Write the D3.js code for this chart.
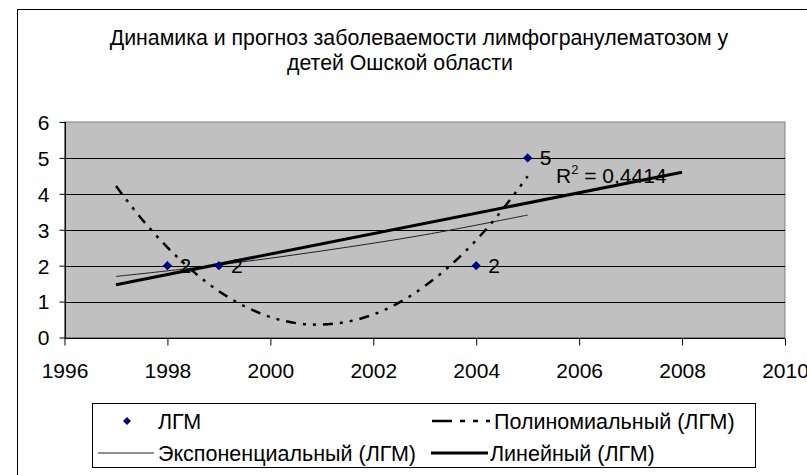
<!DOCTYPE html>
<html><head><meta charset="utf-8">
<script src="https://cdn.jsdelivr.net/npm/d3@7"></script>
<style>body{margin:0;background:#fff}svg{display:block;font-family:"Liberation Sans",Arial,sans-serif}</style>
</head><body><svg id="c" width="807" height="475"></svg>
<script>
const titleLines = ["Динамика и прогноз заболеваемости лимфогранулематозом у", "детей Ошской области"];
const years = [1998, 1999, 2004, 2005];
const cases = [2, 2, 2, 5];
const xTicks = [1996, 1998, 2000, 2002, 2004, 2006, 2008, 2010];
const yTicks = [0, 1, 2, 3, 4, 5, 6];
// trendlines
const linYears = [1997, 2008];
const linVals = [1.47, 4.6];
const expYears = [1997, 1999, 2001, 2003, 2005];
const expVals = [1.70, 2.02, 2.41, 2.86, 3.41];
const polyYears = [1997, 1997.5, 1998, 1998.5, 1999, 1999.5, 2000, 2000.5, 2001, 2001.5, 2002, 2002.5, 2003, 2003.5, 2004, 2004.5, 2005];
const polyVals = [4.22, 3.30, 2.51, 1.84, 1.29, 0.87, 0.57, 0.40, 0.36, 0.44, 0.64, 0.97, 1.43, 2.01, 2.71, 3.54, 4.49];
const r2Label = "0,4414";
const legendNames = ["ЛГМ", "Полиномиальный (ЛГМ)", "Экспоненциальный (ЛГМ)", "Линейный (ЛГМ)"];

const svg = d3.select("#c");
const FS = 21;
const L = 64.5, R = 785, T = 122, B = 337.5;
const x = d3.scaleLinear().domain([1996, 2010]).range([L, R]);
const y = d3.scaleLinear().domain([0, 6]).range([B, T]);

// outer frame
svg.append("rect").attr("x", 17.5).attr("y", 9.5).attr("width", 900).attr("height", 600)
  .attr("fill", "#fff").attr("stroke", "#000");

// title
svg.append("text").attr("x", 419).attr("y", 45).attr("text-anchor", "middle").attr("font-size", 21.3).text(titleLines[0]);
svg.append("text").attr("x", 400).attr("y", 70).attr("text-anchor", "middle").attr("font-size", 21.3).text(titleLines[1]);

// plot area
svg.append("rect").attr("x", L).attr("y", T).attr("width", R - L).attr("height", B - T)
  .attr("fill", "#c0c0c0").attr("stroke", "#808080");

// gridlines
svg.append("g").selectAll("line").data(yTicks.filter(d => d > 0 && d < 6)).join("line")
  .attr("x1", L).attr("x2", R).attr("y1", d => Math.round(y(d)) + 0.5).attr("y2", d => Math.round(y(d)) + 0.5)
  .attr("stroke", "#000").attr("stroke-width", 1);

// axes
const xAxis = svg.append("g").attr("transform", `translate(0,${Math.round(B) + 0.5})`)
  .call(d3.axisBottom(x).tickValues(xTicks).tickFormat(d3.format("d")).tickSize(7).tickPadding(18));
const yAxis = svg.append("g").attr("transform", `translate(${Math.round(L) + 0.5},0)`)
  .call(d3.axisLeft(y).tickValues(yTicks).tickFormat(d3.format("d")).tickSize(6).tickPadding(10));
[xAxis, yAxis].forEach(a => {
  a.select(".domain").attr("stroke", "#000").attr("d", a === xAxis ? `M${L},0H${R}` : `M0,${B}V${T}`);
  a.selectAll(".tick line").attr("stroke", "#000");
  a.selectAll("text").attr("font-size", FS).attr("fill", "#000").attr("font-family", "Liberation Sans, Arial, sans-serif");
});
yAxis.selectAll("text").attr("dy", "0.35em");

const line = d3.line().x(d => x(d[0])).y(d => y(d[1]));
const smooth = d3.line().x(d => x(d[0])).y(d => y(d[1])).curve(d3.curveCatmullRom);

// exponential trend
svg.append("path").attr("d", smooth(d3.zip(expYears, expVals))).attr("fill", "none")
  .attr("stroke", "#202020").attr("stroke-width", 1);
// polynomial trend
svg.append("path").attr("d", smooth(d3.zip(polyYears, polyVals))).attr("fill", "none")
  .attr("stroke", "#000").attr("stroke-width", 2.5).attr("stroke-dasharray", "10,7,3,7,3,7");
// linear trend
svg.append("path").attr("d", line(d3.zip(linYears, linVals))).attr("fill", "none")
  .attr("stroke", "#000").attr("stroke-width", 3);

// points
const diamond = d3.symbol().type(d3.symbolDiamond2).size(55);
svg.append("g").selectAll("path").data(d3.zip(years, cases)).join("path")
  .attr("d", diamond).attr("transform", d => `translate(${x(d[0])},${y(d[1])})`).attr("fill", "#000080");
svg.append("g").selectAll("text").data(d3.zip(years, cases)).join("text")
  .attr("x", d => x(d[0]) + 12).attr("y", d => y(d[1])).attr("dy", "0.36em")
  .attr("font-size", 21).text(d => d[1]);

// R² label
const r2 = svg.append("text").attr("x", 556).attr("y", 183).attr("font-size", 21);
r2.append("tspan").text("R");
r2.append("tspan").attr("font-size", 13).attr("dy", -9).text("2");
r2.append("tspan").attr("dy", 9).text(" = " + r2Label);

// legend
svg.append("rect").attr("x", 92.5).attr("y", 403.5).attr("width", 663).attr("height", 64)
  .attr("fill", "#fff").attr("stroke", "#000");
const LF = 21.5, r1 = 421, r2y = 453;
svg.append("path").attr("d", d3.symbol().type(d3.symbolDiamond2).size(40)).attr("transform", `translate(127,${r1})`).attr("fill", "#000080");
svg.append("text").attr("x", 158).attr("y", r1).attr("dy", "0.36em").attr("font-size", LF).text(legendNames[0]);
svg.append("line").attr("x1", 432).attr("x2", 490).attr("y1", r1).attr("y2", r1).attr("stroke", "#000")
  .attr("stroke-width", 2.5).attr("stroke-dasharray", "20,8,5,8,5,8");
svg.append("text").attr("x", 494).attr("y", r1).attr("dy", "0.36em").attr("font-size", LF).text(legendNames[1]);
svg.append("line").attr("x1", 98).attr("x2", 154).attr("y1", r2y).attr("y2", r2y).attr("stroke", "#202020").attr("stroke-width", 1);
svg.append("text").attr("x", 158).attr("y", r2y).attr("dy", "0.36em").attr("font-size", LF).text(legendNames[2]);
svg.append("line").attr("x1", 431).attr("x2", 488).attr("y1", r2y).attr("y2", r2y).attr("stroke", "#000").attr("stroke-width", 3);
svg.append("text").attr("x", 490).attr("y", r2y).attr("dy", "0.36em").attr("font-size", LF).text(legendNames[3]);
</script></body></html>
